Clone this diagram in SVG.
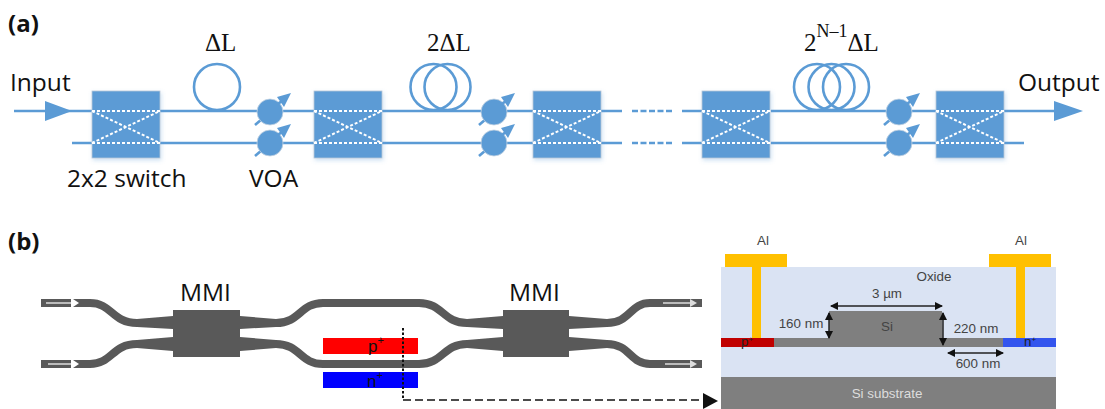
<svg xmlns="http://www.w3.org/2000/svg" width="1105" height="409" viewBox="0 0 1105 409">
<defs>
<style>
.lbl{font-family:"Open Sans","Noto Sans",sans-serif;fill:#111;font-size:24.5px}
.hd{font-family:"Open Sans","Noto Sans",sans-serif;fill:#111;font-size:24px;font-weight:700}
.ser{font-family:"Liberation Serif",serif;fill:#111;font-size:25px}
.sm{font-family:"Liberation Sans",sans-serif;fill:#444;font-size:13.4px;text-anchor:middle}
.bl{stroke:#5B9BD5;stroke-width:2.6;fill:none}
.sw{fill:#5B9BD5;stroke:#b9c9d8;stroke-width:.8;filter:url(#sh)}
.wd{stroke:#fff;stroke-width:2;fill:none;stroke-dasharray:3 2}
.voa{fill:#5B9BD5;stroke:#c4d3e2;stroke-width:.8}
.ar{stroke:#5B9BD5;stroke-width:2.6;fill:none}
.wg{stroke:#595959;stroke-width:8;fill:none}
.tp{fill:#595959}
.bk{stroke:#222;stroke-width:1.5;fill:none;marker-start:url(#sa);marker-end:url(#sa)}
</style>
<filter id="sh" x="-20%" y="-20%" width="140%" height="140%"><feDropShadow dx="1" dy="2" stdDeviation="2" flood-color="#5B9BD5" flood-opacity=".3"/></filter>
<marker id="sa" viewBox="0 0 8 8" refX="7" refY="4" markerWidth="8" markerHeight="8" markerUnits="userSpaceOnUse" orient="auto-start-reverse"><path d="M0 0L8 4L0 8Z" fill="#111"/></marker>
<g id="xsw"><rect class="sw" width="68" height="67"/><path class="wd" d="M0 20H68M0 52H68M0 20L68 52M0 52L68 20"/></g>
<g id="v"><path class="ar" d="M-15 13L-8 7"/><circle class="voa" cx="0" cy="0" r="13"/><path class="ar" d="M8 -8L13 -12"/><path d="M21 -19L7 -15L14 -5Z" fill="#5B9BD5"/></g>
</defs>
<rect width="1105" height="409" fill="#fff"/>

<g id="mzi">
<path class="wg" d="M73 303H90C112 303 112 323 137 323M73 364H90C112 364 112 344 137 344M276 323C300 323 300 303 323 303H419C443 303 443 323 467 323M276 344C300 344 300 364 323 364H419C443 364 443 344 467 344M607 323C630 323 630 303 650 303H702M607 344C630 344 630 364 650 364H702"/>
<rect x="323" y="338" width="95" height="16" fill="#f00"/>
<rect x="323" y="372" width="95" height="16" fill="#00f"/>
<path class="tp" d="M137 319L173 316V329L137 327ZM137 340L173 337V351L137 348ZM240 316L276 319V327L240 329ZM240 337L276 340V348L240 351ZM467 319L503 316V329L467 327ZM467 340L503 337V351L467 348ZM569 316L607 319V327L569 329ZM569 337L607 340V348L569 351Z"/>
<path fill="#fff" d="M73 299L79 303L73 307ZM73 360L79 364L73 368Z"/>
<path class="wg" d="M41 303H71M41 364H71"/>
<path stroke="#ddd" stroke-width="1.5" fill="none" d="M46 303H71M48 364H71M663 303H690M665 364H690"/>
<path fill="#ddd" d="M690 299L697 303L690 307ZM690 360L697 364L690 368Z"/>
<text font-family="'Liberation Sans',sans-serif" font-size="17" fill="#111" x="368" y="352">p<tspan font-size="11" dy="-8">+</tspan></text>
<text font-family="'Liberation Sans',sans-serif" font-size="17" fill="#111" x="367" y="387">n<tspan font-size="11" dy="-8">+</tspan></text>
</g>

<g id="connectors">
<path class="bl" d="M14 111H92M72 143H92M160 111H314M160 143H314M382 111H533M382 143H533M601 111H622M601 143H622M682 111H702M682 143H702M771 111H936M771 143H936M1004 111H1056M1004 143H1024"/>
<path class="bl" stroke-dasharray="6 2.5" d="M632 111H672M632 143H672"/>
<path d="M45 101L72 111L45 121Z M1054 101L1083 111L1054 121Z" fill="#5B9BD5"/>
<path stroke="#111" stroke-width="2" fill="none" stroke-dasharray="2.5 2" d="M403 328V400"/>
<path stroke="#111" stroke-width="1.3" fill="none" stroke-dasharray="8 4" d="M403 400H705"/>
<path d="M703 393L718 401L703 409Z" fill="#111"/>
</g>

<g id="labels-a">
<text class="hd" x="8" y="32">(a)</text>
<text class="lbl" x="10" y="91">Input</text>
<text class="ser" x="205" y="51">ΔL</text>
<text class="ser" x="427" y="51">2ΔL</text>
<text class="ser" x="804" y="51">2<tspan font-size="18" dy="-14">N–1</tspan><tspan dy="14">ΔL</tspan></text>
<text class="lbl" x="1018" y="91">Output</text>
<text class="lbl" x="67" y="187">2x2 switch</text>
<text class="lbl" x="249" y="187">VOA</text>
</g>

<g id="switch1"><use href="#xsw" x="92" y="91"/></g>
<g id="switch2"><use href="#xsw" x="314" y="91"/></g>
<g id="switch3"><use href="#xsw" x="533" y="91"/></g>
<g id="switch4"><use href="#xsw" x="702" y="91"/></g>
<g id="switch5"><use href="#xsw" x="936" y="91"/></g>

<g id="coil1" class="bl"><circle cx="217" cy="87" r="23"/></g>
<g id="coil2" class="bl"><circle cx="433.5" cy="87" r="23"/><circle cx="447.5" cy="87" r="23"/></g>
<g id="coil3" class="bl"><circle cx="817" cy="87" r="23"/><circle cx="831.5" cy="87" r="23"/><circle cx="846" cy="87" r="23"/></g>

<g id="voa1"><use href="#v" x="270" y="112"/><use href="#v" x="270" y="143"/></g>
<g id="voa2"><use href="#v" x="494" y="112"/><use href="#v" x="494" y="143"/></g>
<g id="voa3"><use href="#v" x="899" y="112"/><use href="#v" x="899" y="143"/></g>

<text class="hd" x="8" y="250">(b)</text>

<g id="mmi1"><rect x="173" y="310" width="67" height="47" fill="#595959"/><text class="lbl" x="180" y="301">MMI</text></g>
<g id="mmi2"><rect x="503" y="310" width="66" height="47" fill="#595959"/><text class="lbl" x="509" y="301">MMI</text></g>

<g id="cross-section">
<rect x="721" y="267" width="335" height="110" fill="#DAE3F3"/>
<rect x="721" y="377" width="335" height="32" fill="#7F7F7F"/>
<path d="M725 254H787V267H761V338H752V267H725ZM989 254H1051V267H1025V338H1016V267H989Z" fill="#FFC000"/>
<rect x="774" y="338" width="229" height="9" fill="#7F7F7F"/>
<path d="M829 311H942L943 347H829Z" fill="#7F7F7F"/>
<rect x="721" y="338" width="53" height="9" fill="#C00000"/>
<rect x="1003" y="338" width="53" height="9" fill="#3355EE"/>
<path class="bk" d="M831 306H942"/>
<path class="bk" d="M829 313V338"/>
<path class="bk" d="M943 313V345"/>
<path class="bk" d="M948 353H1003"/>
<text class="sm" x="763" y="245">Al</text>
<text class="sm" x="1021" y="245">Al</text>
<text class="sm" x="934" y="281">Oxide</text>
<text class="sm" x="887" y="298">3 µm</text>
<text class="sm" x="801" y="328">160 nm</text>
<text class="sm" x="976" y="333">220 nm</text>
<text class="sm" x="978" y="368">600 nm</text>
<text class="sm" x="887" y="331">Si</text>
<text class="sm" x="747" y="346" style="fill:#222">p<tspan font-size="8" dy="-4">+</tspan></text>
<text class="sm" x="1030" y="346" style="fill:#222">n<tspan font-size="8" dy="-4">+</tspan></text>
<text class="sm" x="887" y="398" style="fill:#ddd">Si substrate</text>
</g>
</svg>
